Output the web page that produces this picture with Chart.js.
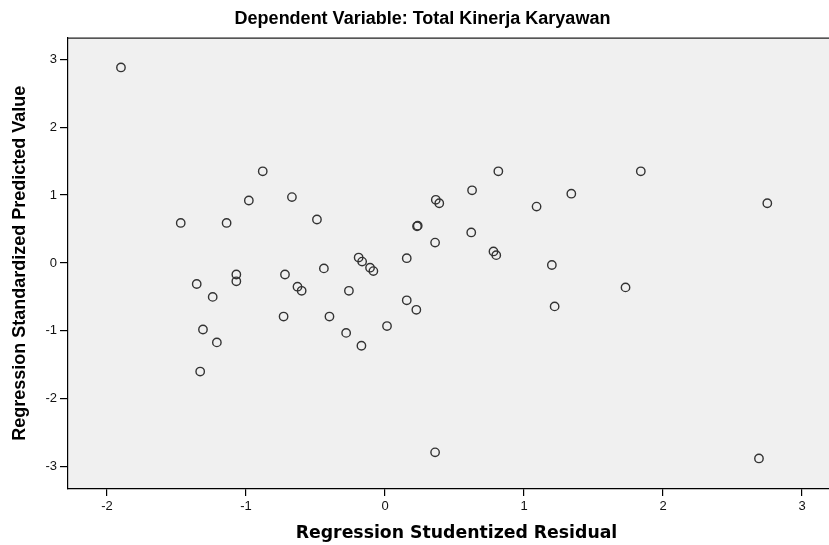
<!DOCTYPE html>
<html>
<head>
<meta charset="utf-8">
<script src="https://cdn.jsdelivr.net/npm/chart.js@4.4.1/dist/chart.umd.min.js"></script>
<style>
  html, body { margin: 0; padding: 0; background: #fff; overflow: hidden; }
  #wrap { width: 852px; height: 545px; }
</style>
</head>
<body>
<div id="wrap"><canvas id="scatter_chart" width="852" height="545"></canvas></div>
<script>
// studentized residual (x) and standardized predicted value (y)
var residual = [-1.90, -1.47, -1.14, -0.98, -0.88, -0.67, -0.49, 0.365, 0.39, 0.23,
                0.235, 0.36, 0.156, -0.19, -0.165, -0.108, -0.084, -0.44, -1.355, -1.07,
                -1.07, -0.72, -0.63, -0.60, -0.26, -1.24, 0.156, 0.225, -0.73, -0.40,
                0.014, -1.31, -0.28, -1.21, -0.17, -1.33, 0.815, 1.84, 0.626, 1.34,
                1.09, 0.62, 0.78, 0.80, 1.20, 1.73, 1.22, 2.75, 2.69, 0.36];
var predicted = [2.88, 0.59, 0.59, 0.92, 1.35, 0.97, 0.64, 0.93, 0.88, 0.54,
                 0.55, 0.30, 0.07, 0.08, 0.02, -0.07, -0.12, -0.08, -0.31, -0.17,
                 -0.27, -0.17, -0.35, -0.41, -0.41, -0.50, -0.55, -0.69, -0.79, -0.79,
                 -0.93, -0.98, -1.03, -1.17, -1.22, -1.60, 1.35, 1.35, 1.07, 1.02,
                 0.83, 0.45, 0.17, 0.115, -0.03, -0.36, -0.64, 0.88, -2.88, -2.79];
var xTicks = [-2, -1, 0, 1, 2, 3];
var yTicks = [-3, -2, -1, 0, 1, 2, 3];

var points = residual.map(function (r, i) { return { x: r, y: predicted[i] }; });

// grey plot panel like the SPSS output
var panelBg = {
  id: 'panelBg',
  beforeDraw: function (chart) {
    var a = chart.chartArea, c = chart.ctx;
    c.save();
    c.fillStyle = '#f0f0f0';
    c.fillRect(a.left, a.top, a.right - a.left, a.bottom - a.top);
    c.strokeStyle = '#222';
    c.lineWidth = 1.2;
    c.beginPath();
    c.moveTo(a.left, a.top + 0.5);
    c.lineTo(a.right, a.top + 0.5);
    c.lineTo(a.right - 0.5, a.bottom);
    c.stroke();
    c.restore();
  }
};

var ctx = document.getElementById("scatter_chart");

var chart = new Chart(ctx, {
  type: 'scatter',
  data: {
    datasets: [{
      label: 'Residual',
      data: points,
      pointStyle: 'circle',
      pointRadius: 4.2,
      pointHoverRadius: 4.2,
      backgroundColor: 'rgba(0,0,0,0)',
      borderColor: '#333',
      pointBorderWidth: 1.4
    }]
  },
  options: {
    responsive: false,
    animation: false,
    layout: { padding: { left: 0, right: 7, top: 0, bottom: 0 } },
    plugins: {
      legend: { display: false },
      tooltip: { enabled: false },
      title: {
        display: true,
        text: 'Dependent Variable: Total Kinerja Karyawan',
        color: '#000',
        font: { family: '"Liberation Sans", Arial, sans-serif', size: 18, weight: 'bold' },
        padding: { top: 8, bottom: 8 }
      }
    },
    scales: {
      x: {
        type: 'linear',
        min: -2.281,
        max: 3.309,
        afterBuildTicks: function (s) { s.ticks = xTicks.map(function (v) { return { value: v }; }); },
        afterFit: function (s) { s.height = 56; },
        ticks: {
          color: '#111',
          padding: 3,
          font: { family: '"Liberation Sans", Arial, sans-serif', size: 13 }
        },
        grid: { drawOnChartArea: false, drawTicks: true, tickLength: 7, color: '#000', lineWidth: 1.2 },
        border: { display: true, color: '#000', width: 1.2 },
        title: {
          display: true,
          text: 'Regression Studentized Residual',
          color: '#000',
          font: { family: '"DejaVu Sans", sans-serif', size: 17.3, weight: 'bold' },
          padding: { top: 0, bottom: 1 }
        }
      },
      y: {
        type: 'linear',
        min: -3.33,
        max: 3.32,
        afterBuildTicks: function (s) { s.ticks = yTicks.map(function (v) { return { value: v }; }); },
        afterFit: function (s) { s.width = 68; },
        ticks: {
          color: '#111',
          padding: 3,
          font: { family: '"Liberation Sans", Arial, sans-serif', size: 13 }
        },
        grid: { drawOnChartArea: false, drawTicks: true, tickLength: 8, color: '#000', lineWidth: 1.2 },
        border: { display: true, color: '#000', width: 1.2 },
        title: {
          display: true,
          text: 'Regression Standardized Predicted Value',
          color: '#000',
          font: { family: '"Liberation Sans", Arial, sans-serif', size: 18, weight: 'bold' },
          padding: { top: 9, bottom: 0 }
        }
      }
    }
  },
  plugins: [panelBg]
});
</script>
</body>
</html>
